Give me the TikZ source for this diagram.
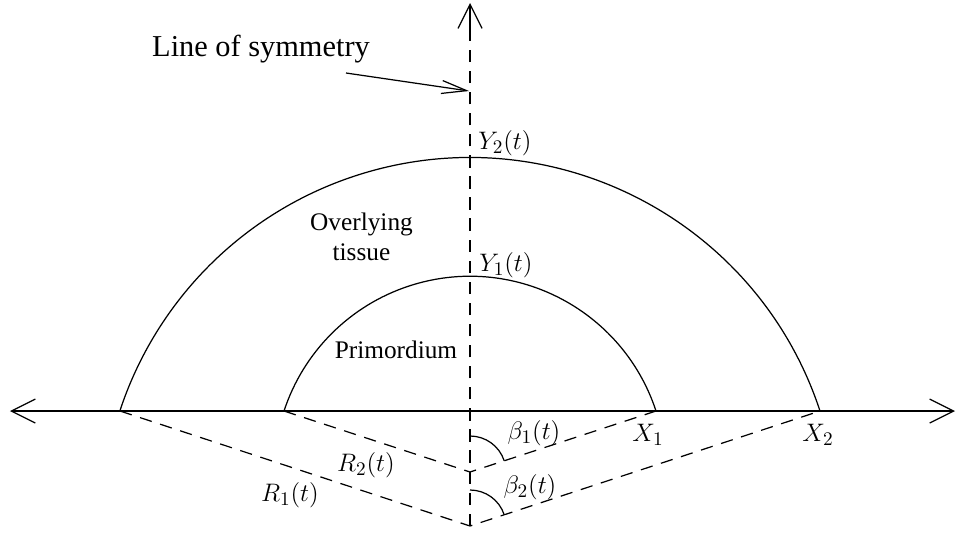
\documentclass[tikz,border=0pt]{standalone}
\usepackage[no-math]{fontspec}
\setmainfont{Liberation Serif}
\usetikzlibrary{arrows.meta}

\begin{document}
\begin{tikzpicture}[
    font=\fontsize{14.4}{17}\selectfont,
    line width=0.7pt,
    guide/.style={dash pattern=on 7pt off 5pt},
    axisarrow/.style={-{Straight Barb[length=0.48cm, width=0.48cm]}},
    pointer/.style={-{Straight Barb[length=0.5cm, width=0.26cm]}},
    lbl/.style={inner sep=1pt, font=\fontsize{15.8}{18}\selectfont}
]
    \useasboundingbox (-9.4,-2.42) rectangle (9.72,8.22);

    % --- axes and centres ---
    \coordinate (axL) at (-9.2,0);
    \coordinate (axR) at (9.7,0);
    \coordinate (symTop) at (0,8.16);
    \coordinate (c1) at (0,-1.22);
    \coordinate (c2) at (0,-2.3);

    \coordinate (inL)  at (-3.72,0);
    \coordinate (inR)  at (3.72,0);
    \coordinate (outL) at (-7.0,0);
    \coordinate (outR) at (7.0,0);

    \draw[axisarrow] (0,0) -- (axL);
    \draw[axisarrow] (0,0) -- (axR);
    \draw[guide] (c2) -- (0,7.7);
    \draw[axisarrow] (0,7.6) -- (symTop);

    % --- boundaries ---
    \draw (inR) arc[start angle=18.16, end angle=161.84, radius=3.915];
    \draw (outR) arc[start angle=18.19, end angle=161.81, radius=7.37];

    % radii
    \draw[guide] (inL) -- (c1) -- (inR);
    \draw[guide] (outL) -- (c2) -- (outR);

    % angle marks
    \coordinate (b1s) at (0,-0.5);
    \coordinate (b2s) at (0,-1.58);
    \draw (b1s) arc[start angle=90, end angle=18.2, radius=0.72];
    \draw (b2s) arc[start angle=90, end angle=18.2, radius=0.72];

    % --- labels ---
    \node[font=\fontsize{17.28}{20}\selectfont] (los) at (-4.18,7.23) {Line of symmetry};
    \coordinate (symTail) at (-2.48,6.76);
    \coordinate (symHit) at (-0.02,6.4);
    \draw[pointer] (symTail) -- (symHit);

    \node[lbl, anchor=west] (y2) at (0.12,5.36) {$Y_2(t)$};
    \node[lbl, anchor=west] (y1) at (0.14,2.92) {$Y_1(t)$};
    \node[align=center] (tissue) at (-2.17,3.48) {Overlying\\tissue};
    \node (prim) at (-1.48,1.22) {Primordium};

    \node[lbl] (r2) at (-2.08,-1.08) {$R_2(t)$};
    \node[lbl] (r1) at (-3.6,-1.68) {$R_1(t)$};
    \node[lbl] (b1) at (1.28,-0.44) {$\beta_1(t)$};
    \node[lbl] (b2) at (1.2,-1.52) {$\beta_2(t)$};
    \node[lbl] (x1) at (3.56,-0.48) {$X_1$};
    \node[lbl] (x2) at (6.96,-0.48) {$X_2$};

\end{tikzpicture}
\end{document}
